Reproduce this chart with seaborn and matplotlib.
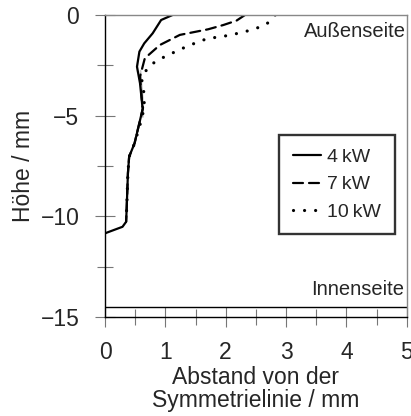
import matplotlib
matplotlib.use("Agg")
import matplotlib.pyplot as plt
import seaborn as sns
import pandas as pd
from matplotlib.ticker import MultipleLocator

sns.set_style("white")
plt.rcParams['font.family'] = ['Liberation Sans', 'DejaVu Sans']

# Profile values (x = distance in mm, y = height in mm)
dist_4kw = [1.12, 0.93, 0.79, 0.65, 0.57, 0.53, 0.53, 0.58, 0.62, 0.63, 0.62, 0.49, 0.40, 0.38, 0.36, 0.35, 0.29, 0.03, 0.0]
height_4kw = [0.0, -0.25, -0.91, -1.41, -1.82, -2.32, -2.82, -3.39, -4.06, -4.6, -5.05, -6.37, -7.04, -7.85, -9.52, -10.27, -10.52, -10.81, -10.85]

dist_7kw = [2.32, 2.18, 1.96, 1.71, 1.24, 0.91, 0.66, 0.58, 0.58, 0.62, 0.63, 0.62, 0.49, 0.40, 0.38, 0.36, 0.35]
height_7kw = [0.0, -0.28, -0.5, -0.71, -0.99, -1.49, -2.15, -2.73, -3.39, -4.06, -4.6, -5.05, -6.37, -7.04, -7.85, -9.52, -10.27]

dist_10kw = [2.82, 2.68, 2.51, 2.32, 2.13, 1.93, 1.71, 1.55, 1.35, 1.19, 1.01, 0.83, 0.69, 0.61, 0.64, 0.65, 0.62, 0.49, 0.40, 0.38, 0.36, 0.35]
height_10kw = [0.0, -0.45, -0.66, -0.83, -0.96, -1.08, -1.16, -1.33, -1.57, -1.79, -2.04, -2.32, -2.70, -3.23, -3.73, -4.39, -5.05, -6.37, -7.04, -7.85, -9.52, -10.27]

labels = ["4\u2009kW", "7\u2009kW", "10\u2009kW"]
styles = ["-", (0, (4.5, 2.7)), (0, (0.01, 3.45))]
widths = [1.6, 1.6, 2.3]
profiles = [(dist_4kw, height_4kw), (dist_7kw, height_7kw), (dist_10kw, height_10kw)]

fig = plt.figure(figsize=(4.11, 4.16), dpi=100)
ax = fig.add_axes([0.2555, 0.238, 0.734, 0.726])

for name, (xs, ys), ls, lw in zip(labels, profiles, styles, widths):
    df = pd.DataFrame({"x": xs, "y": ys})
    sns.lineplot(data=df, x="x", y="y", sort=False, ax=ax, color="black",
                 linewidth=lw, linestyle=ls, dash_capstyle="round",
                 solid_capstyle="round", label=name)

ax.axhline(-14.5, color="black", lw=1.0)

ax.set_xlim(0, 5)
ax.set_ylim(-15, 0)
ax.xaxis.set_major_locator(MultipleLocator(1))
ax.xaxis.set_minor_locator(MultipleLocator(0.5))
ax.yaxis.set_minor_locator(MultipleLocator(2.5))
ax.set_yticks([0, -5, -10, -15])
ax.set_yticklabels(["0", "\u22125", "\u221210", "\u221215"])

ax.tick_params(which="both", bottom=True, left=True, top=False, right=False)
ax.tick_params(which="major", direction="inout", length=15, width=0.8,
               color="#777777", labelsize=16.5)
ax.tick_params(which="minor", direction="inout", length=11, width=0.8, color="#777777")
ax.tick_params(axis="x", which="major", pad=9.5)
ax.tick_params(axis="y", which="major", pad=11)

for side in ["left", "bottom"]:
    ax.spines[side].set_color("black")
    ax.spines[side].set_linewidth(1.0)
for side in ["top", "right"]:
    ax.spines[side].set_color("#888888")
    ax.spines[side].set_linewidth(1.0)

ax.set_xlabel("Abstand von der\nSymmetrielinie / mm", fontsize=16.5, labelpad=2,
              linespacing=1.0)
ax.set_ylabel("Höhe / mm", fontsize=16.5, labelpad=4)

ax.text(4.98, -0.8, "Außenseite", ha="right", va="center", fontsize=14.5)
ax.text(4.95, -13.64, "Innenseite", ha="right", va="center", fontsize=14.5)

leg = ax.legend(loc="upper right", bbox_to_anchor=(0.96, 0.603), fontsize=14,
                frameon=True, fancybox=False, edgecolor="black",
                handlelength=1.45, handletextpad=0.3, borderpad=0.7,
                labelspacing=0.5, borderaxespad=0)
leg.get_frame().set_linewidth(1.7)

fig.savefig("out.png", dpi=100)
